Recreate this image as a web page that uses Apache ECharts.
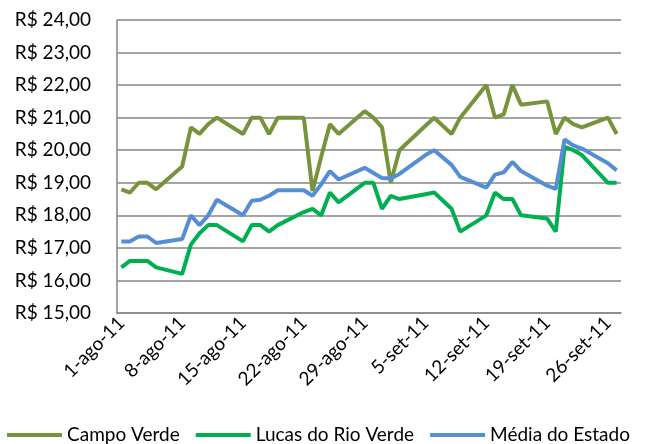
<!DOCTYPE html>
<html>
<head>
<meta charset="utf-8">
<script src="https://cdn.jsdelivr.net/npm/echarts@6/dist/echarts.min.js"></script>
<style>
  html, body { margin: 0; padding: 0; background: #fff; }
  #main { width: 646px; height: 444px; }
</style>
</head>
<body>
<div id="main"></div>
<script>
// dias de pregão (sem fins de semana, sem 7-set)
var tradeDays = [
  '1-ago-11', '2-ago-11', '3-ago-11', '4-ago-11', '5-ago-11',
  '8-ago-11', '9-ago-11', '10-ago-11', '11-ago-11', '12-ago-11',
  '15-ago-11', '16-ago-11', '17-ago-11', '18-ago-11', '19-ago-11',
  '22-ago-11', '23-ago-11', '24-ago-11', '25-ago-11', '26-ago-11',
  '29-ago-11', '30-ago-11', '31-ago-11', '1-set-11', '2-set-11',
  '5-set-11', '6-set-11', '8-set-11', '9-set-11',
  '12-set-11', '13-set-11', '14-set-11', '15-set-11', '16-set-11',
  '19-set-11', '20-set-11', '21-set-11', '22-set-11', '23-set-11',
  '26-set-11', '27-set-11'
];

var campoVerde = [
  18.8, 18.7, 19.0, 19.0, 18.8,
  19.5, 20.7, 20.5, 20.8, 21.0,
  20.5, 21.0, 21.0, 20.5, 21.0,
  21.0, 18.75, 19.8, 20.8, 20.5,
  21.2, 21.0, 20.7, 19.0, 20.0,
  20.75, 21.0, 20.5, 21.0,
  22.0, 21.0, 21.1, 22.0, 21.4,
  21.5, 20.5, 21.0, 20.8, 20.7,
  21.0, 20.5
];

var lucasRioVerde = [
  16.4, 16.6, 16.6, 16.6, 16.4,
  16.2, 17.1, 17.45, 17.7, 17.7,
  17.2, 17.7, 17.7, 17.5, 17.7,
  18.1, 18.2, 18.0, 18.7, 18.4,
  19.0, 19.0, 18.2, 18.6, 18.5,
  18.65, 18.7, 18.2, 17.5,
  18.0, 18.7, 18.5, 18.5, 18.0,
  17.9, 17.5, 20.1, 20.0, 19.85,
  19.0, 19.0
];

var mediaEstado = [
  17.2, 17.2, 17.35, 17.35, 17.15,
  17.27, 18.0, 17.7, 18.0, 18.48,
  18.0, 18.45, 18.48, 18.6, 18.77,
  18.77, 18.6, 18.95, 19.36, 19.1,
  19.46, 19.3, 19.15, 19.13, 19.27,
  19.85, 20.0, 19.55, 19.18,
  18.85, 19.25, 19.32, 19.64, 19.36,
  18.91, 18.81, 20.33, 20.15, 20.05,
  19.6, 19.38
];

// eixo de datas: todos os dias do período
var months = [['ago', 31], ['set', 27]];
var allDays = [];
months.forEach(function (m) {
  for (var d = 1; d <= m[1]; d++) allDays.push(d + '-' + m[0] + '-11');
});

function onAxis(values) {
  return allDays.map(function (day) {
    var i = tradeDays.indexOf(day);
    return i < 0 ? null : values[i];
  });
}

var font = 'Lato';

var chart = echarts.init(document.getElementById('main'));
chart.setOption({
  animation: false,
  grid: { left: 117, right: 25, top: 20, bottom: 131 },
  legend: {
    left: 7,
    top: 424,
    padding: 0,
    icon: 'rect',
    itemWidth: 55,
    itemHeight: 4,
    itemGap: 16,
    textStyle: { fontFamily: font, fontSize: 19, color: '#000', lineHeight: 22 },
    data: ['Campo Verde', 'Lucas do Rio Verde', 'Média do Estado']
  },
  xAxis: {
    type: 'category',
    data: allDays,
    boundaryGap: true,
    axisLine: { lineStyle: { color: '#868686', width: 1.5 } },
    axisTick: { show: false },
    axisLabel: {
      interval: 6,
      rotate: 45,
      margin: 7,
      fontFamily: font,
      fontSize: 19,
      color: '#000'
    }
  },
  yAxis: {
    type: 'value',
    min: 15,
    max: 24,
    interval: 1,
    axisLine: { show: true, lineStyle: { color: '#868686', width: 1.5 } },
    axisTick: { show: false },
    splitLine: { lineStyle: { color: '#868686', width: 1.5 } },
    axisLabel: {
      margin: 26,
      fontFamily: font,
      fontSize: 19,
      color: '#000',
      formatter: function (v) { return 'R$ ' + v.toFixed(2).replace('.', ','); }
    }
  },
  series: [
    {
      name: 'Campo Verde', type: 'line', data: onAxis(campoVerde),
      connectNulls: true, showSymbol: false, symbol: 'none',
      color: '#77933C', lineStyle: { width: 4, color: '#77933C' }
    },
    {
      name: 'Lucas do Rio Verde', type: 'line', data: onAxis(lucasRioVerde),
      connectNulls: true, showSymbol: false, symbol: 'none',
      color: '#00B050', lineStyle: { width: 4, color: '#00B050' }
    },
    {
      name: 'Média do Estado', type: 'line', data: onAxis(mediaEstado),
      connectNulls: true, showSymbol: false, symbol: 'none',
      color: '#558ED5', lineStyle: { width: 4, color: '#558ED5' }
    }
  ]
});
</script>
</body>
</html>
